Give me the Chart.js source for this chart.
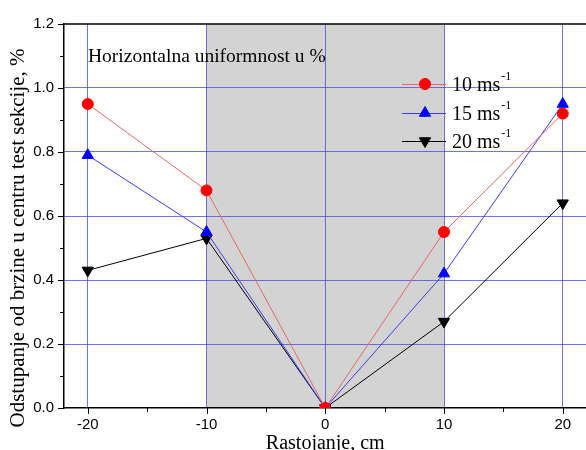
<!DOCTYPE html>
<html>
<head>
<meta charset="utf-8">
<script src="https://cdn.jsdelivr.net/npm/chart.js@4.4.1/dist/chart.umd.min.js"></script>
<style>
  html, body { margin: 0; padding: 0; background: #fff; overflow: hidden; }
  /* platno je malo sire od prozora, desna ivica grafika je odsecena kao u originalu */
  #wrap { width: 594px; height: 450px; position: relative; }
</style>
</head>
<body>
<div id="wrap"><canvas id="uniChart"></canvas></div>
<script>
// podaci sa grafika
const positions = [-20, -10, 0, 10, 20];
const speed10 = [0.95, 0.68, 0.0, 0.55, 0.92];
const speed15 = [0.79, 0.55, 0.0, 0.42, 0.95];
const speed20 = [0.43, 0.53, 0.0, 0.27, 0.64];
const seriesLabels = ['10 ms', '15 ms', '20 ms'];
const xTicks = [-20, -10, 0, 10, 20];
const xMinorTicks = [-15, -5, 5, 15];
const yTicks = [0.0, 0.2, 0.4, 0.6, 0.8, 1.0, 1.2];
const yMinorTicks = [0.1, 0.3, 0.5, 0.7, 0.9, 1.1];
const shadedRange = [-10, 10];

const serif = '"Liberation Serif", "Times New Roman", serif';
const sans = '"Liberation Sans", Arial, sans-serif';
const gridBlue = 'rgba(70, 70, 220, 0.75)';

function toPoints(vals) {
    return positions.map((x, i) => ({ x: x, y: vals[i] }));
}

// siva zona, okvir, kratke crte, naslovi osa
const decorPlugin = {
    id: 'decor',
    beforeDraw(chart) {
        const { ctx, chartArea, scales } = chart;
        const x1 = scales.x.getPixelForValue(shadedRange[0]);
        const x2 = scales.x.getPixelForValue(shadedRange[1]);
        ctx.save();
        ctx.fillStyle = '#d3d3d3';
        ctx.fillRect(x1, chartArea.top, x2 - x1, chartArea.bottom - chartArea.top);
        ctx.restore();
    },
    afterDraw(chart) {
        const { ctx, chartArea, scales } = chart;
        const xs = scales.x, ys = scales.y;
        ctx.save();
        ctx.strokeStyle = '#000';
        ctx.lineWidth = 1.5;
        // gornja ivica
        ctx.beginPath();
        ctx.moveTo(chartArea.left, chartArea.top);
        ctx.lineTo(chartArea.right, chartArea.top);
        ctx.stroke();

        ctx.lineWidth = 1;
        ctx.beginPath();
        xTicks.forEach(v => {
            const p = Math.round(xs.getPixelForValue(v)) + 0.5;
            ctx.moveTo(p, chartArea.bottom);
            ctx.lineTo(p, chartArea.bottom + 6);
        });
        xMinorTicks.forEach(v => {
            const p = Math.round(xs.getPixelForValue(v)) + 0.5;
            ctx.moveTo(p, chartArea.bottom);
            ctx.lineTo(p, chartArea.bottom + 4);
        });
        yTicks.forEach(v => {
            const p = Math.round(ys.getPixelForValue(v)) + 0.5;
            ctx.moveTo(chartArea.left, p);
            ctx.lineTo(chartArea.left - 6, p);
        });
        yMinorTicks.forEach(v => {
            const p = Math.round(ys.getPixelForValue(v)) + 0.5;
            ctx.moveTo(chartArea.left, p);
            ctx.lineTo(chartArea.left - 4, p);
        });
        ctx.stroke();

        // naslovi osa
        ctx.fillStyle = '#000';
        ctx.textAlign = 'center';
        ctx.textBaseline = 'middle';
        ctx.font = '20px ' + serif;
        ctx.fillText('Rastojanje, cm', xs.getPixelForValue(0), 444);
        ctx.translate(18, 238);
        ctx.rotate(-Math.PI / 2);
        ctx.font = '21px ' + serif;
        ctx.fillText('Odstupanje od brzine u centru test sekcije, %', 0, 0);
        ctx.restore();

        // natpis u grafiku
        ctx.save();
        ctx.fillStyle = '#000';
        ctx.font = '19.5px ' + serif;
        ctx.textBaseline = 'alphabetic';
        ctx.fillText('Horizontalna uniformnost u %', 88, 62);
        ctx.restore();
    }
};

// legenda sa eksponentom -1
const legendPlugin = {
    id: 'customLegend',
    afterDatasetsDraw(chart) {
        const { ctx } = chart;
        const rows = [84, 113, 141];
        ctx.save();
        chart.data.datasets.forEach((ds, i) => {
            const y = rows[i];
            ctx.strokeStyle = ds.borderColor;
            ctx.lineWidth = 1;
            ctx.beginPath();
            ctx.moveTo(402, y + 0.5);
            ctx.lineTo(446, y + 0.5);
            ctx.stroke();
            ctx.fillStyle = ds.pointBackgroundColor;
            ctx.strokeStyle = ds.pointBackgroundColor;
            Chart.helpers.drawPoint(ctx, {
                pointStyle: ds.pointStyle,
                rotation: ds.pointRotation || 0,
                radius: ds.pointRadius,
                borderWidth: 1
            }, 425, y);
            ctx.fillStyle = '#000';
            ctx.font = '20px ' + serif;
            ctx.textBaseline = 'middle';
            ctx.textAlign = 'left';
            ctx.fillText(seriesLabels[i], 452, y + 2);
            const w = ctx.measureText(seriesLabels[i]).width;
            ctx.font = '12px ' + serif;
            ctx.fillText('-1', 452 + w + 1, y - 7);
        });
        ctx.restore();
    }
};

const ctx = document.getElementById('uniChart').getContext('2d');
const uniChart = new Chart(ctx, {
    type: 'scatter',
    data: {
        datasets: [
            {
                label: seriesLabels[0],
                data: toPoints(speed10),
                showLine: true,
                borderColor: '#e06a6a',
                borderWidth: 1,
                pointStyle: 'circle',
                pointRadius: 5.5,
                pointBackgroundColor: '#ff0000',
                pointBorderColor: '#ff0000'
            },
            {
                label: seriesLabels[1],
                data: toPoints(speed15),
                showLine: true,
                borderColor: '#3c3cf0',
                borderWidth: 1,
                pointStyle: 'triangle',
                pointRadius: 6.5,
                pointBackgroundColor: '#0000ff',
                pointBorderColor: '#0000ff'
            },
            {
                label: seriesLabels[2],
                data: toPoints(speed20),
                showLine: true,
                borderColor: '#000000',
                borderWidth: 1,
                pointStyle: 'triangle',
                pointRotation: 180,
                pointRadius: 6.5,
                pointBackgroundColor: '#000000',
                pointBorderColor: '#000000'
            }
        ]
    },
    options: {
        responsive: true,
        maintainAspectRatio: false,
        animation: false,
        layout: { padding: { top: 24, right: 0, left: 0, bottom: 0 } },
        plugins: {
            legend: { display: false },
            tooltip: { enabled: false }
        },
        scales: {
            x: {
                type: 'linear',
                min: -22,
                max: 22,
                afterBuildTicks: s => { s.ticks = xTicks.map(v => ({ value: v })); },
                afterFit: s => { s.height = 42; },
                grid: {
                    color: gridBlue,
                    lineWidth: 1,
                    drawTicks: false
                },
                border: { display: true, color: '#000', width: 1.5 },
                ticks: {
                    padding: 8,
                    color: '#000',
                    font: { family: sans, size: 15 },
                    callback: v => String(v)
                }
            },
            y: {
                type: 'linear',
                min: 0,
                max: 1.2,
                afterBuildTicks: s => { s.ticks = yTicks.map(v => ({ value: v })); },
                afterFit: s => { s.width = 64; },
                grid: {
                    color: c => (c.tick && (c.tick.value === 0 || c.tick.value === 1.2)) ? 'rgba(0,0,0,0)' : gridBlue,
                    lineWidth: 1,
                    drawTicks: false
                },
                border: { display: true, color: '#000', width: 1.5 },
                ticks: {
                    padding: 10,
                    color: '#000',
                    font: { family: sans, size: 15 },
                    callback: v => Number(v).toFixed(1)
                }
            }
        }
    },
    plugins: [decorPlugin, legendPlugin]
});
</script>
</body>
</html>
